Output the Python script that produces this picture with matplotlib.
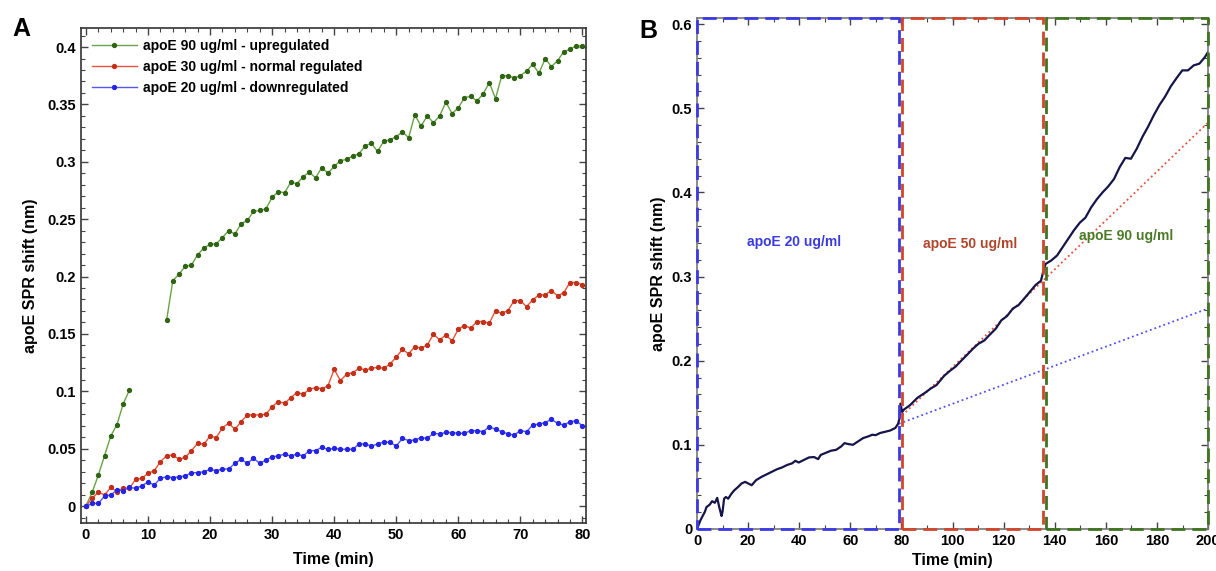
import matplotlib
matplotlib.use("Agg")
import matplotlib.pyplot as plt
from matplotlib.ticker import MultipleLocator

plt.rcParams['font.family'] = ['Liberation Sans', 'DejaVu Sans']
plt.rcParams['font.weight'] = 'bold'

# ---- panel A data (time in min, SPR shift in nm) ----
green_t1 = [0, 1, 2, 3, 4, 5, 6, 7]
green_y1 = [0.0, 0.012, 0.027, 0.044, 0.061, 0.071, 0.089, 0.101]

green_t2 = list(range(13, 81))
green_y2 = [0.162, 0.1965, 0.202, 0.209, 0.210, 0.219, 0.225, 0.228, 0.2285, 0.234,
            0.240, 0.237, 0.246, 0.249, 0.2567, 0.2576, 0.259, 0.269, 0.274, 0.273,
            0.282, 0.281, 0.287, 0.291, 0.286, 0.295, 0.290, 0.296, 0.301, 0.302,
            0.305, 0.307, 0.314, 0.316, 0.309, 0.318, 0.319, 0.322, 0.326, 0.321,
            0.341, 0.331, 0.340, 0.334, 0.340, 0.352, 0.342, 0.347, 0.356, 0.357,
            0.353, 0.359, 0.369, 0.355, 0.375, 0.375, 0.373, 0.375, 0.379, 0.385,
            0.377, 0.390, 0.383, 0.388, 0.396, 0.398, 0.401, 0.401]

red_t = list(range(0, 81))
red_y = [0.0, 0.0067, 0.0122, 0.0096, 0.0163, 0.0125, 0.0157, 0.0154, 0.0233, 0.0241,
         0.0285, 0.0308, 0.0387, 0.0439, 0.0445, 0.0407, 0.0424, 0.0483, 0.0547, 0.0538,
         0.061, 0.0596, 0.0683, 0.0721, 0.0669, 0.0735, 0.0794, 0.0794, 0.0794, 0.080,
         0.0866, 0.091, 0.0895, 0.0945, 0.0988, 0.0974, 0.1017, 0.1032, 0.1023, 0.1047,
         0.1192, 0.1093, 0.1148, 0.1163, 0.120, 0.1186, 0.120, 0.1209, 0.120, 0.1238,
         0.1297, 0.1366, 0.1326, 0.139, 0.1375, 0.1404, 0.1497, 0.1448, 0.1491, 0.1439,
         0.1541, 0.1573, 0.155, 0.1608, 0.1608, 0.1593, 0.1703, 0.168, 0.1703, 0.179,
         0.179, 0.1738, 0.1797, 0.184, 0.184, 0.1878, 0.1831, 0.186, 0.1948, 0.1948,
         0.193]

blue_t = list(range(0, 81))
blue_y = [0.0, 0.0023, 0.0023, 0.0087, 0.0096, 0.014, 0.0134, 0.0163, 0.0154, 0.0177,
          0.0209, 0.0183, 0.0241, 0.0256, 0.0247, 0.0256, 0.0262, 0.0291, 0.0291, 0.030,
          0.032, 0.0308, 0.0323, 0.0323, 0.0372, 0.0407, 0.0372, 0.0416, 0.0372, 0.0401,
          0.043, 0.0436, 0.0453, 0.0436, 0.0453, 0.0436, 0.0483, 0.0483, 0.0512, 0.0494,
          0.0503, 0.0494, 0.0494, 0.0494, 0.0541, 0.0541, 0.0523, 0.0541, 0.0558, 0.0555,
          0.0523, 0.059, 0.057, 0.0576, 0.0596, 0.059, 0.0634, 0.0628, 0.0642, 0.064,
          0.0634, 0.0634, 0.0657, 0.0657, 0.0648, 0.0692, 0.0669, 0.0648, 0.0628, 0.0619,
          0.0657, 0.0648, 0.0706, 0.0715, 0.0727, 0.0756, 0.0721, 0.0706, 0.0735, 0.0744,
          0.0698]

legend_labels = ['apoE 90 ug/ml - upregulated',
                 'apoE 30 ug/ml - normal regulated',
                 'apoE 20 ug/ml - downregulated']

# ---- panel B data ----
trace_t = [0, 1.4, 3.1, 3.7, 5.0, 5.9, 7.0, 7.9, 8.7, 9.6, 10.0, 10.6, 11.3, 12.2, 13.5,
           14.6, 16.1, 17.4, 18.8, 20.1, 21.4, 23.1, 25.3, 27.3, 29.3, 31.3, 33.2, 35.2,
           37.2, 38.5, 39.8, 41.8, 43.8, 45.8, 47.4, 48.4, 50.4, 52.4, 54.4, 56.4, 57.7,
           59.1, 61.0, 63.0, 65.0, 67.0, 68.6, 69.9, 71.6, 73.6, 75.6, 77.6, 78.7, 79.2,
           79.6, 80.3, 81.0, 83.3, 86.3, 89.3, 91.5, 93.7, 96.7, 99.0, 101.2, 103.4,
           105.7, 107.9, 110.1, 112.4, 114.6, 116.9, 119.1, 121.3, 123.6, 125.8, 128.1,
           130.3, 132.5, 134.6, 135.4, 136.4, 138.6, 140.9, 143.1, 145.3, 147.5, 149.8,
           152.0, 154.2, 156.5, 158.7, 160.9, 163.2, 165.4, 167.6, 169.8, 172.1, 174.3,
           176.5, 178.8, 181.0, 183.2, 185.4, 187.7, 189.9, 192.1, 194.4, 196.6, 198.8,
           200.0]
trace_y = [0.0, 0.0107, 0.0206, 0.026, 0.029, 0.033, 0.0311, 0.037, 0.026, 0.0154, 0.0206,
           0.036, 0.038, 0.036, 0.042, 0.046, 0.050, 0.054, 0.056, 0.054, 0.052, 0.058,
           0.062, 0.065, 0.068, 0.071, 0.073, 0.076, 0.078, 0.081, 0.079, 0.082, 0.085,
           0.0855, 0.083, 0.088, 0.0905, 0.093, 0.094, 0.098, 0.102, 0.101, 0.100, 0.104,
           0.108, 0.110, 0.112, 0.1115, 0.114, 0.1155, 0.117, 0.120, 0.125, 0.131, 0.149,
           0.139, 0.142, 0.147, 0.156, 0.162, 0.167, 0.171, 0.182, 0.188, 0.193, 0.200,
           0.207, 0.214, 0.220, 0.224, 0.231, 0.238, 0.248, 0.253, 0.262, 0.266, 0.274,
           0.282, 0.290, 0.295, 0.305, 0.315, 0.319, 0.325, 0.335, 0.345, 0.355, 0.364,
           0.370, 0.382, 0.392, 0.400, 0.407, 0.416, 0.430, 0.441, 0.440, 0.452, 0.466,
           0.478, 0.492, 0.504, 0.514, 0.526, 0.536, 0.545, 0.545, 0.551, 0.553, 0.561,
           0.567]

fit20_t = [79.0, 200.0]
fit20_y = [0.125, 0.262]
fit50_t = [80.3, 200.0]
fit50_y = [0.135, 0.483]

# phase windows (start, end) in min
phase_bounds = [(0.0, 79.0), (80.3, 135.5), (136.5, 200.0)]
phase_names = ['apoE 20 ug/ml', 'apoE 50 ug/ml', 'apoE 90 ug/ml']
phase_label_pos = [(37.9, 0.341), (107.0, 0.339), (167.9, 0.348)]

c_green, c_green_m = '#6aa347', '#2f6414'
c_red, c_red_m = '#e8553a', '#c3301a'
c_blue, c_blue_m = '#5656f5', '#2424e8'
phase_colors = ['#3a3ae6', '#d2452a', '#3f7420']
phase_text_colors = ['#3a3ae0', '#b0452c', '#4a7a26']


def style_axes(ax):
    ax.tick_params(which='both', direction='in', top=True, right=True,
                   color='#444444', labelsize=10.5)
    ax.tick_params(which='major', length=5, width=1)
    ax.tick_params(which='minor', length=3, width=0.8)
    for lab in ax.get_xticklabels() + ax.get_yticklabels():
        lab.set_fontweight('bold')


fig = plt.figure(figsize=(12.16, 5.71), dpi=100)

# ---------- A ----------
axA = fig.add_axes([0.0666, 0.084, 0.4154, 0.867])
axA.plot(green_t1, green_y1, '-', color=c_green, lw=1.0, marker='o', ms=2.8,
         mfc=c_green_m, mec=c_green_m, label=legend_labels[0])
axA.plot(green_t2, green_y2, '-', color=c_green, lw=1.0, marker='o', ms=2.8,
         mfc=c_green_m, mec=c_green_m)
axA.plot(red_t, red_y, '-', color=c_red, lw=1.0, marker='o', ms=2.8,
         mfc=c_red_m, mec=c_red_m, label=legend_labels[1])
axA.plot(blue_t, blue_y, '-', color=c_blue, lw=1.0, marker='o', ms=2.8,
         mfc=c_blue_m, mec=c_blue_m, label=legend_labels[2])
axA.set_xlim(-0.8, 80.6)
axA.set_ylim(-0.0148, 0.4166)
axA.xaxis.set_major_locator(MultipleLocator(10))
axA.xaxis.set_minor_locator(MultipleLocator(2))
axA.yaxis.set_major_locator(MultipleLocator(0.05))
axA.yaxis.set_minor_locator(MultipleLocator(0.01))
axA.set_yticks([0, 0.05, 0.1, 0.15, 0.2, 0.25, 0.3, 0.35, 0.4])
axA.set_yticklabels(['0', '0.05', '0.1', '0.15', '0.2', '0.25', '0.3', '0.35', '0.4'])
style_axes(axA)
for s in axA.spines.values():
    s.set_color('#333333')
    s.set_linewidth(1.2)
axA.set_xlabel('Time (min)', fontsize=11.5, fontweight='bold', labelpad=7)
axA.set_ylabel('apoE SPR shift (nm)', fontsize=11.5, fontweight='bold', labelpad=7)
leg = axA.legend(loc='upper left', frameon=False, handlelength=3.2,
                 handletextpad=0.5, labelspacing=0.5, borderaxespad=0.4,
                 prop={'weight': 'bold', 'size': 10})
fig.text(0.010, 0.95, 'A', fontsize=18, fontweight='bold', va='center')

# ---------- B ----------
axB = fig.add_axes([0.5732, 0.0736, 0.4203, 0.8945])
axB.plot(fit20_t, fit20_y, ':', color='#5050f0', lw=1.3)
axB.plot(fit50_t, fit50_y, ':', color='#e8503a', lw=1.3)
axB.plot(trace_t, trace_y, '-', color='#15154a', lw=1.6)
axB.set_xlim(0, 200)
axB.set_ylim(0, 0.607)
axB.xaxis.set_major_locator(MultipleLocator(20))
axB.xaxis.set_minor_locator(MultipleLocator(10))
axB.yaxis.set_major_locator(MultipleLocator(0.1))
axB.yaxis.set_minor_locator(MultipleLocator(0.02))
axB.set_yticks([0, 0.1, 0.2, 0.3, 0.4, 0.5, 0.6])
axB.set_yticklabels(['0', '0.1', '0.2', '0.3', '0.4', '0.5', '0.6'])
style_axes(axB)
for s in axB.spines.values():
    s.set_color('#777777')
    s.set_linewidth(1.2)
y0, y1 = axB.get_ylim()
for (t0, t1), col in zip(phase_bounds, phase_colors):
    axB.plot([t0, t1, t1, t0, t0], [y0, y0, y1, y1, y0], color=col, lw=2.0,
             ls=(0, (5, 2.5)), clip_on=False, zorder=5)
for name, (tx, ty), col in zip(phase_names, phase_label_pos, phase_text_colors):
    axB.text(tx, ty, name, color=col, fontsize=10, fontweight='bold',
             ha='center', va='center')
axB.set_xlabel('Time (min)', fontsize=11.5, fontweight='bold', labelpad=4)
axB.set_ylabel('apoE SPR shift (nm)', fontsize=11.5, fontweight='bold', labelpad=4)
fig.text(0.526, 0.945, 'B', fontsize=18, fontweight='bold', va='center')

fig.savefig('out.png', dpi=100)
